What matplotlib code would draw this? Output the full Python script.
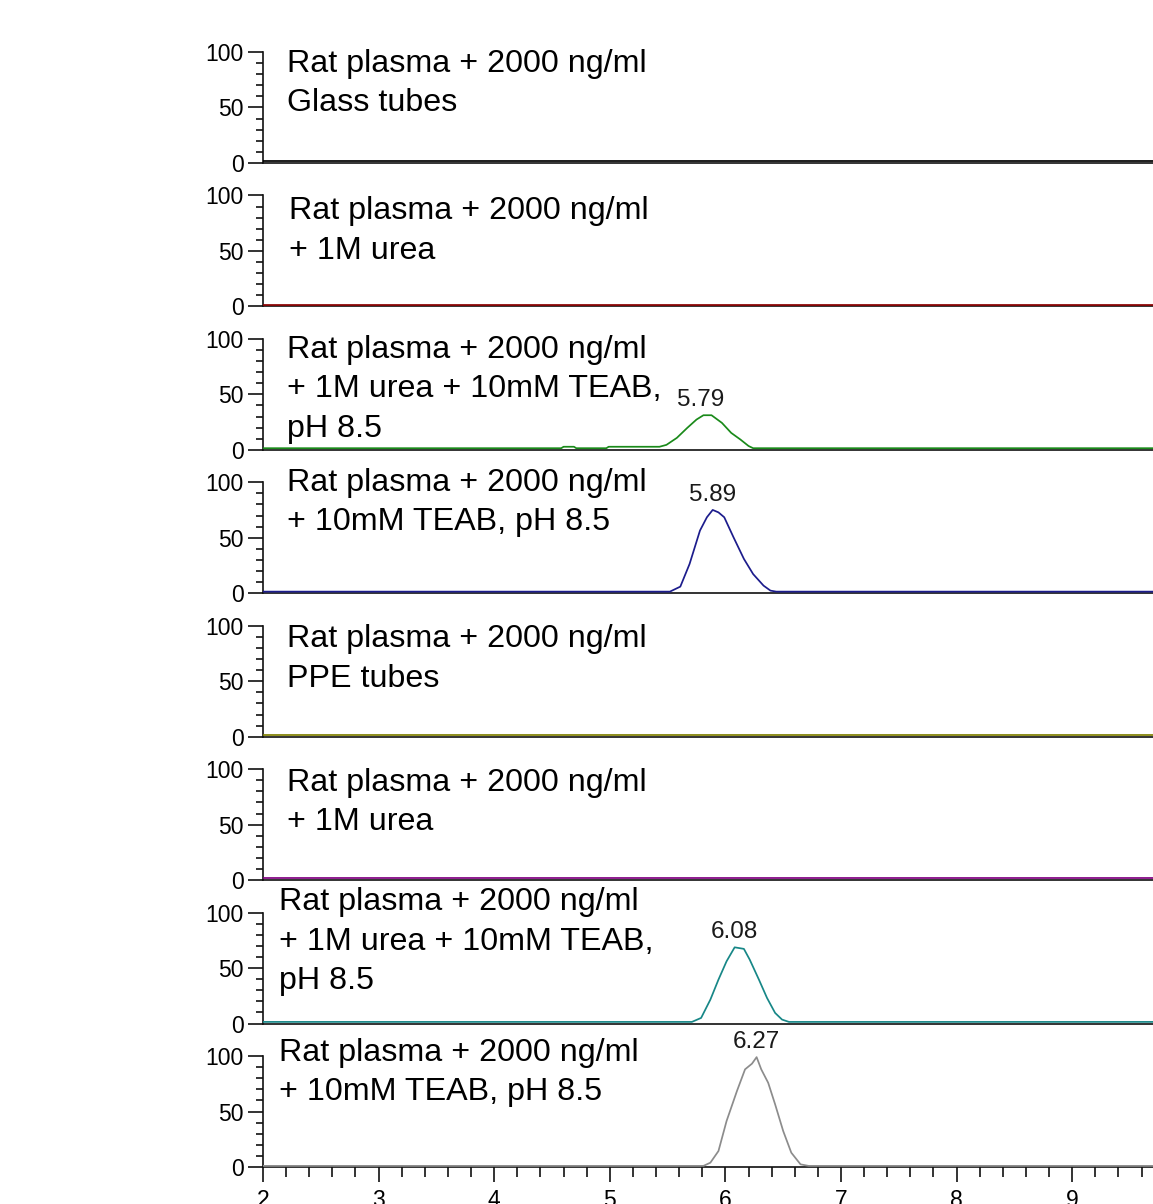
"""Stacked SRM chromatograms: rat plasma spiked at 2000 ng/ml, glass vs PPE tubes."""
import matplotlib
matplotlib.use("Agg")
import matplotlib.pyplot as plt
from matplotlib.ticker import FixedLocator, MultipleLocator

plt.rcParams["font.family"] = ["Liberation Sans", "DejaVu Sans"]

# ---- data (time in min, relative abundance in %) ----
flat_time = [2.0, 9.7]
flat_int = [1.5, 1.5]

urea_teab_glass_time = [2.0, 4.58, 4.60, 4.69, 4.71, 4.97, 4.99, 5.43, 5.49, 5.58,
                        5.67, 5.75, 5.81, 5.88, 5.97, 6.05, 6.13, 6.20, 6.24, 9.7]
urea_teab_glass_int = [1.5, 1.5, 2.8, 2.8, 1.5, 1.5, 2.8, 2.8, 4.5, 10.8,
                       19.8, 27.3, 31.2, 31.2, 24.3, 15.3, 9.3, 3.5, 1.5, 1.5]

teab_glass_time = [2.0, 5.52, 5.61, 5.69, 5.78, 5.84, 5.89, 5.94, 5.99, 6.07,
                   6.16, 6.24, 6.33, 6.39, 6.44, 9.7]
teab_glass_int = [1.5, 1.5, 6.0, 26.4, 56.5, 68.5, 75.1, 72.9, 68.5, 50.5,
                  31.0, 17.3, 6.9, 2.4, 1.5, 1.5]

urea_teab_ppe_time = [2.0, 5.71, 5.79, 5.87, 5.94, 6.01, 6.08, 6.16, 6.21, 6.29,
                      6.36, 6.43, 6.49, 6.55, 9.7]
urea_teab_ppe_int = [1.5, 1.5, 5.1, 21.6, 39.6, 56.1, 68.7, 67.3, 57.7, 39.6,
                     23.1, 9.6, 3.6, 1.5, 1.5]

teab_ppe_time = [2.0, 5.81, 5.87, 5.94, 6.01, 6.10, 6.17, 6.23, 6.27, 6.31,
                 6.37, 6.43, 6.50, 6.57, 6.65, 6.72, 9.7]
teab_ppe_int = [1.0, 1.0, 3.9, 14.4, 41.4, 68.5, 88.0, 93.1, 99.0, 88.0,
                75.9, 56.5, 32.4, 12.9, 2.4, 1.0, 1.0]

traces = [
    (flat_time, flat_int),
    (flat_time, flat_int),
    (urea_teab_glass_time, urea_teab_glass_int),
    (teab_glass_time, teab_glass_int),
    (flat_time, flat_int),
    (flat_time, flat_int),
    (urea_teab_ppe_time, urea_teab_ppe_int),
    (teab_ppe_time, teab_ppe_int),
]
peak_rt = [None, None, 5.79, 5.89, None, None, 6.08, 6.27]

labels = [
    ["Rat plasma + 2000 ng/ml", "Glass tubes"],
    ["Rat plasma + 2000 ng/ml", "+ 1M urea"],
    ["Rat plasma + 2000 ng/ml", "+ 1M urea + 10mM TEAB,", "pH 8.5"],
    ["Rat plasma + 2000 ng/ml", "+ 10mM TEAB, pH 8.5"],
    ["Rat plasma + 2000 ng/ml", "PPE tubes"],
    ["Rat plasma + 2000 ng/ml", "+ 1M urea"],
    ["Rat plasma + 2000 ng/ml", "+ 1M urea + 10mM TEAB,", "pH 8.5"],
    ["Rat plasma + 2000 ng/ml", "+ 10mM TEAB, pH 8.5"],
]

# ---- styling / layout ----
colors = ["#000000", "#8b0000", "#1a8a1a", "#1c1c8c",
          "#808000", "#800080", "#178787", "#8c8c8c"]
label_x = [2.21, 2.225, 2.21, 2.21, 2.21, 2.21, 2.14, 2.14]
label_y = [82.3, 78.6, 83.2, 92.2, 80.5, 80.5, 102.0, 95.8]
line_step = 35.6

W, H = 1153, 1204
left_px, first_base_px, step_px = 263, 163, 143.43
y_per_px = 1.11

fig = plt.figure(figsize=(W / 100, H / 100), dpi=100)

for k, (t, y) in enumerate(traces):
    base_px = first_base_px + k * step_px
    ax = fig.add_axes([left_px / W, (H - base_px) / H,
                       (W - left_px) / W, step_px / H])
    ax.plot(t, y, color=colors[k], lw=1.25, solid_joinstyle="round", zorder=3)
    ax.set_xlim(2.0, 2.0 + (W - left_px) / 115.6)
    ax.set_ylim(0, step_px / y_per_px)

    for s in ("top", "right"):
        ax.spines[s].set_visible(False)
    ax.spines["left"].set_bounds(0, 100)
    for s in ("left", "bottom"):
        ax.spines[s].set_linewidth(1.2)
        ax.spines[s].set_color("#111111")

    ax.yaxis.set_major_locator(FixedLocator([0, 50, 100]))
    ax.yaxis.set_minor_locator(FixedLocator(list(range(0, 101, 10))))
    ax.tick_params(axis="y", which="major", length=11, width=1.2,
                   labelsize=16.5, pad=3, color="#111111")
    ax.tick_params(axis="y", which="minor", length=5, width=1.2, color="#111111")
    ax.patch.set_alpha(0)

    if k == len(traces) - 1:
        ax.xaxis.set_major_locator(MultipleLocator(1))
        ax.xaxis.set_minor_locator(MultipleLocator(0.2))
        ax.tick_params(axis="x", which="major", length=11, width=1.2,
                       labelsize=16.5, pad=5, color="#111111")
        ax.tick_params(axis="x", which="minor", length=7, width=1.2,
                       color="#111111")
    else:
        ax.tick_params(axis="x", which="both", bottom=False, labelbottom=False)

    for j, line in enumerate(labels[k]):
        ax.text(label_x[k], label_y[k] - j * line_step, line, fontsize=23.2,
                ha="left", va="baseline", color="black")

    if peak_rt[k] is not None:
        ax.annotate(f"{peak_rt[k]:.2f}", xy=(peak_rt[k], max(y)),
                    xytext=(0, 6.5), textcoords="offset points",
                    ha="center", va="baseline", fontsize=17.5, color="#1a1a1a")

fig.savefig("out.png", dpi=100)
